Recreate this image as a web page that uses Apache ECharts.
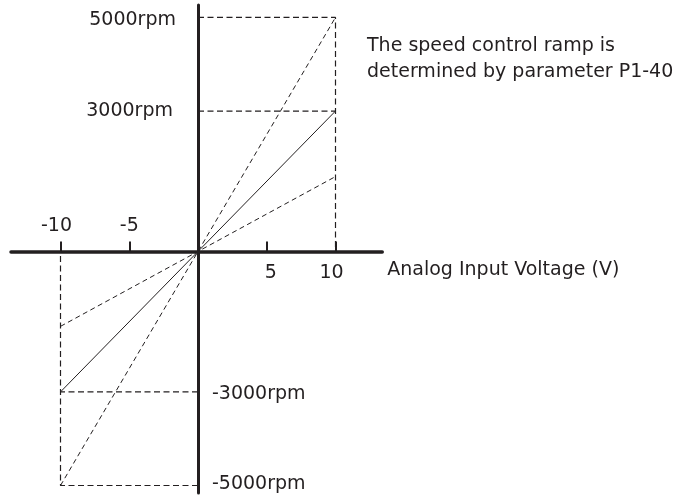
<!DOCTYPE html>
<html>
<head>
<meta charset="utf-8">
<script src="https://cdn.jsdelivr.net/npm/echarts@6/dist/echarts.min.js"></script>
<style>
html,body{margin:0;padding:0;background:#fff;}
#chart{width:679px;height:497px;}
</style>
</head>
<body>
<div id="chart"></div>
<script>
// ---- data ----
const voltageTicks = [-10, -5, 5, 10];
const voltageTickLabels = ['-10', '-5', '5', '10'];
const speedTicks = [5000, 3000, -3000, -5000];
const speedTickLabels = ['5000rpm', '3000rpm', '-3000rpm', '-5000rpm'];
const inputRange = [-10, 10];
const rampFast = [-5000, 5000];   // dashed, steepest
const rampRated = [-3000, 3000];  // solid
const rampSlow = [-1600, 1600];   // dashed, shallow
const noteText = 'The speed control ramp is\ndetermined by parameter P1-40';
const xAxisTitle = 'Analog Input Voltage (V)';

// ---- styles ----
const ink = '#231f20';
const font = 'DejaVu Sans';
const fs = 19;

function ramp(vals) {
  return inputRange.map((x, i) => [x, vals[i]]);
}

const vMin = inputRange[0], vMax = inputRange[1];
const sTop = speedTicks[0], sMid = speedTicks[1];
const sNegMid = speedTicks[2], sNegBot = speedTicks[3];

// guide lines (dashed) from axis to ramp ends
const guides = [
  [[0, sTop], [vMax, sTop], [vMax, 0]],
  [[0, sMid], [vMax, sMid]],
  [[0, sNegBot], [vMin, sNegBot], [vMin, 0]],
  [[0, sNegMid], [vMin, sNegMid]]
];

const xLabelOffsets = {'-10': [-4, 0], '-5': [0, 0], '5': [4, 0], '10': [-4, 0]};
const yLabelCfg = [
  {position: 'left', distance: 22, offset: [0, 3]},
  {position: 'left', distance: 25, offset: [0, 0]},
  {position: 'right', distance: 14, offset: [0, 2]},
  {position: 'right', distance: 14, offset: [0, -1]}
];

const series = [];
guides.forEach(g => {
  series.push({
    type: 'line', data: g, symbol: 'none', silent: true, z: 1,
    lineStyle: {color: ink, width: 1.2, type: [6, 3.5]}
  });
});
series.push({
  type: 'line', data: ramp(rampFast), symbol: 'none', silent: true, z: 2,
  lineStyle: {color: ink, width: 1, type: [5, 3.5]}
});
series.push({
  type: 'line', data: ramp(rampRated), symbol: 'none', silent: true, z: 2,
  lineStyle: {color: ink, width: 1, type: 'solid'}
});
series.push({
  type: 'line', data: ramp(rampSlow), symbol: 'none', silent: true, z: 2,
  lineStyle: {color: ink, width: 1, type: [5, 3.5]}
});
// voltage tick labels
series.push({
  type: 'scatter', symbolSize: 0, silent: true, z: 5,
  itemStyle: {opacity: 1},
  data: voltageTicks.map((v, i) => ({
    value: [v, 0],
    label: {
      show: true,
      formatter: voltageTickLabels[i],
      position: v < 0 ? 'top' : 'bottom',
      distance: v < 0 ? 16 : 12,
      offset: xLabelOffsets[voltageTickLabels[i]],
      color: ink, fontFamily: font, fontSize: fs, opacity: 1
    }
  }))
});
// speed labels
series.push({
  type: 'scatter', symbolSize: 0, silent: true, z: 5,
  itemStyle: {opacity: 1},
  data: speedTicks.map((s, i) => ({
    value: [0, s],
    label: Object.assign({
      show: true,
      formatter: speedTickLabels[i],
      color: ink, fontFamily: font, fontSize: fs, opacity: 1
    }, yLabelCfg[i])
  }))
});

const chart = echarts.init(document.getElementById('chart'), null, {renderer: 'canvas'});
chart.setOption({
  animation: false,
  backgroundColor: '#fff',
  title: {
    text: noteText,
    left: 362, top: 28,
    textStyle: {color: ink, fontFamily: font, fontSize: fs, fontWeight: 'normal', lineHeight: 26}
  },
  grid: {left: 11, top: 5, width: 371.25, height: 488, containLabel: false},
  xAxis: {
    type: 'value', min: -13.6, max: 13.4,
    name: xAxisTitle,
    nameLocation: 'end', nameGap: 5,
    nameTextStyle: {color: ink, fontFamily: font, fontSize: fs, verticalAlign: 'top', align: 'left', padding: [9, 0, 0, 0]},
    axisLine: {onZero: true, lineStyle: {color: ink, width: 3.5}},
    axisTick: {show: true, inside: true, length: 10, customValues: voltageTicks, lineStyle: {color: ink, width: 2}},
    axisLabel: {show: false},
    splitLine: {show: false}
  },
  yAxis: {
    type: 'value', min: -5160, max: 5265,
    axisLine: {show: true, onZero: true, lineStyle: {color: ink, width: 3}},
    axisTick: {show: false},
    axisLabel: {show: false},
    splitLine: {show: false}
  },
  series: series
});
</script>
</body>
</html>
